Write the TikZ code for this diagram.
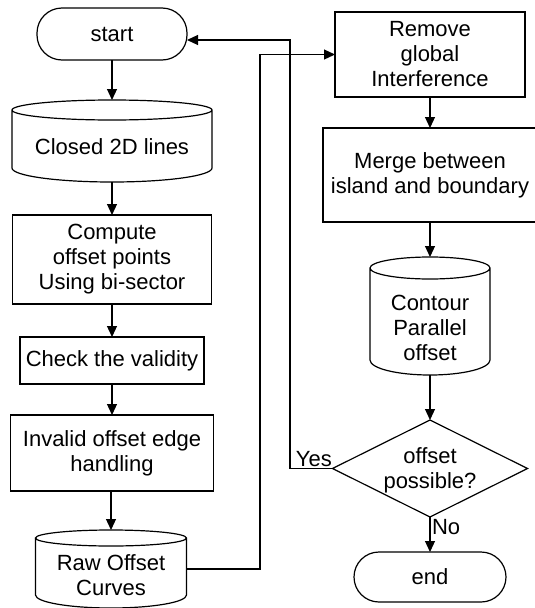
\documentclass[tikz,border=0pt]{standalone}
\usepackage{fontspec}
\setmainfont{Liberation Sans}
\usetikzlibrary{shapes.geometric,arrows.meta}
\newcommand\mycyl[4]{% name, half width, top ry, bottom ry
  \draw[plain] ([yshift=-#3pt]#1.north west) -- ([yshift=#4pt]#1.south west)
    arc[start angle=180, end angle=360, x radius=#2pt, y radius=#4pt]
    -- ([yshift=-#3pt]#1.north east)
    arc[start angle=0, end angle=180, x radius=#2pt, y radius=#3pt]
    arc[start angle=180, end angle=360, x radius=#2pt, y radius=#3pt];}
\tikzset{
  txt/.style={font=\fontsize{22}{25}\selectfont, align=center},
  base/.style={draw, line width=1.2pt, txt, inner sep=0pt, outer sep=0pt},
  proc/.style={base, rectangle},
  term/.style={base, rectangle, rounded corners=25pt},
  cylnode/.style={rectangle, draw=none, inner sep=0pt, outer sep=0pt},
  dec/.style={base, diamond},
  plain/.style={line width=1.2pt},
  flow/.style={plain, -{Triangle[length=11pt,width=10pt]}},
  lbl/.style={txt, inner sep=1.5pt},
}
\begin{document}
\begin{tikzpicture}[x=1pt,y=-1pt]
\useasboundingbox (0,0) rectangle (535,608);
% left column
\node[term, minimum width=150pt, minimum height=52pt] (start) at (112,34) {start};
\node[cylnode, minimum width=200pt, minimum height=82pt,
      label={[txt, yshift=-6pt]center:Closed 2D lines}] (closed) at (112,141) {};
\mycyl{closed}{100}{10}{14}
\node[proc, minimum width=199pt, minimum height=89pt] (compute) at (112,259.5)
      {Compute\\offset points\\Using bi-sector};
\node[proc, minimum width=184pt, minimum height=47pt] (check) at (112,360.5)
      {Check the validity};
\node[proc, minimum width=203pt, minimum height=76pt] (invalid) at (112,453)
      {Invalid offset edge\\handling};
\node[cylnode, minimum width=151pt, minimum height=78pt,
      label={[txt, yshift=-6pt]center:{Raw Offset\\Curves}}] (raw) at (111,569) {};
\mycyl{raw}{75.5}{8}{13}
% right column
\node[proc, minimum width=190pt, minimum height=85pt] (remove) at (430,54.5)
      {Remove\\global\\Interference};
\node[proc, minimum width=214pt, minimum height=94pt] (merge) at (430,175)
      {Merge between\\island and boundary};
\node[cylnode, minimum width=120pt, minimum height=118pt,
      label={[txt, yshift=-12pt]center:{Contour\\Parallel\\offset}}] (contour) at (430,316) {};
\mycyl{contour}{60}{11}{15}
\node[dec, minimum width=195pt, minimum height=97pt,
      label={[txt, yshift=-2pt]center:{offset\\possible?}}] (dec) at (430,468.5) {};
\node[term, minimum width=152pt, minimum height=50pt] (stop) at (430,577) {end};
% bend points
\coordinate (rawbend) at (260,300);
\coordinate (yesbend) at (290,300);
% connectors
\draw[flow] (start) -- (closed);
\draw[flow] (closed) -- (compute);
\draw[flow] (compute) -- (check);
\draw[flow] (check) -- (invalid);
\draw[flow] (invalid.south -| raw.north) -- (raw.north);
\draw[flow] (raw.east) -| (rawbend) |- (remove.west);
\draw[flow] (remove) -- (merge);
\draw[flow] (merge) -- (contour);
\draw[flow] (contour) -- (dec);
\draw[flow] (dec.south) -- node[lbl, right, pos=0.3] {No} (stop.north);
\draw[flow] (dec.west) -| node[lbl, above, pos=0.22] {Yes} (yesbend) |- ([yshift=-6pt]start.east);
\end{tikzpicture}
\end{document}
